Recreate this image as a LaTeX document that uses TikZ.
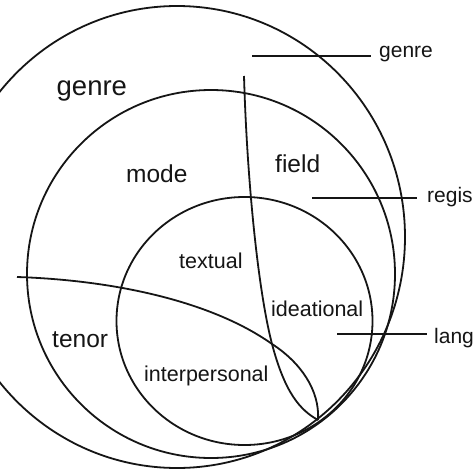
\documentclass[tikz,border=0pt]{standalone}
\usepackage{fontspec}
\setmainfont{Liberation Sans}
\definecolor{ink}{HTML}{151515}
\begin{document}
\begin{tikzpicture}[x=1pt,y=-1pt,
  ring/.style={draw=ink,line width=1.8pt},
  leader/.style={draw=ink,line width=1.8pt},
  bigl/.style={anchor=base west,inner sep=0pt,text=ink,font=\fontsize{27.5}{30}\selectfont},
  midl/.style={anchor=base west,inner sep=0pt,text=ink,font=\fontsize{24.5}{28}\selectfont},
  smalll/.style={anchor=base west,inner sep=0pt,text=ink,font=\fontsize{21.5}{24}\selectfont},
  sidel/.style={anchor=base west,inner sep=0pt,text=ink,font=\fontsize{21}{24}\selectfont}]
\useasboundingbox (0,0) rectangle (474,474);
\clip (0,0) rectangle (474,474);
\fill[white] (0,0) rectangle (474,474);
% circles
\draw[ring] (177,237) ellipse [x radius=228pt, y radius=231pt];
\draw[ring] (211,274) ellipse [x radius=184pt, y radius=184pt];
\draw[ring] (244.5,321) ellipse [x radius=128pt, y radius=124pt];
% dividing curves
\coordinate (tp) at (318,420);
\coordinate (vtop) at (244,76);
\coordinate (hleft) at (17,277);
\coordinate (cross) at (272,344);
\draw[ring] (vtop) .. controls (247,180) and (258,290) .. (cross)
  .. controls (285,393) and (300,410) .. (tp);
\draw[ring] (hleft) .. controls (110,280) and (210,300) .. (cross)
  .. controls (300,362) and (320,390) .. (tp);
% leaders
\coordinate (g1) at (252,56); \coordinate (g2) at (371,56);
\coordinate (r1) at (312,198); \coordinate (r2) at (417,198);
\coordinate (l1) at (337,334); \coordinate (l2) at (427,334);
\draw[leader] (g1) -- (g2);
\draw[leader] (r1) -- (r2);
\draw[leader] (l1) -- (l2);
\node[sidel] (sg) at (379,57.5) {genre};
\node[sidel] (sr) at (427,202) {regis};
\node[sidel] (sl) at (434,343) {lang};
% labels
\node[bigl] (genre) at (56.5,95) {genre};
\node[midl] (mode) at (126,182) {mode};
\node[midl] (field) at (275,172) {field};
\node[midl] (tenor) at (52,347) {tenor};
\node[smalll] (textual) at (179,268) {textual};
\node[smalll] (ideational) at (271,316) {ideational};
\node[smalll] (interpersonal) at (144,381) {interpersonal};
\end{tikzpicture}
\end{document}
